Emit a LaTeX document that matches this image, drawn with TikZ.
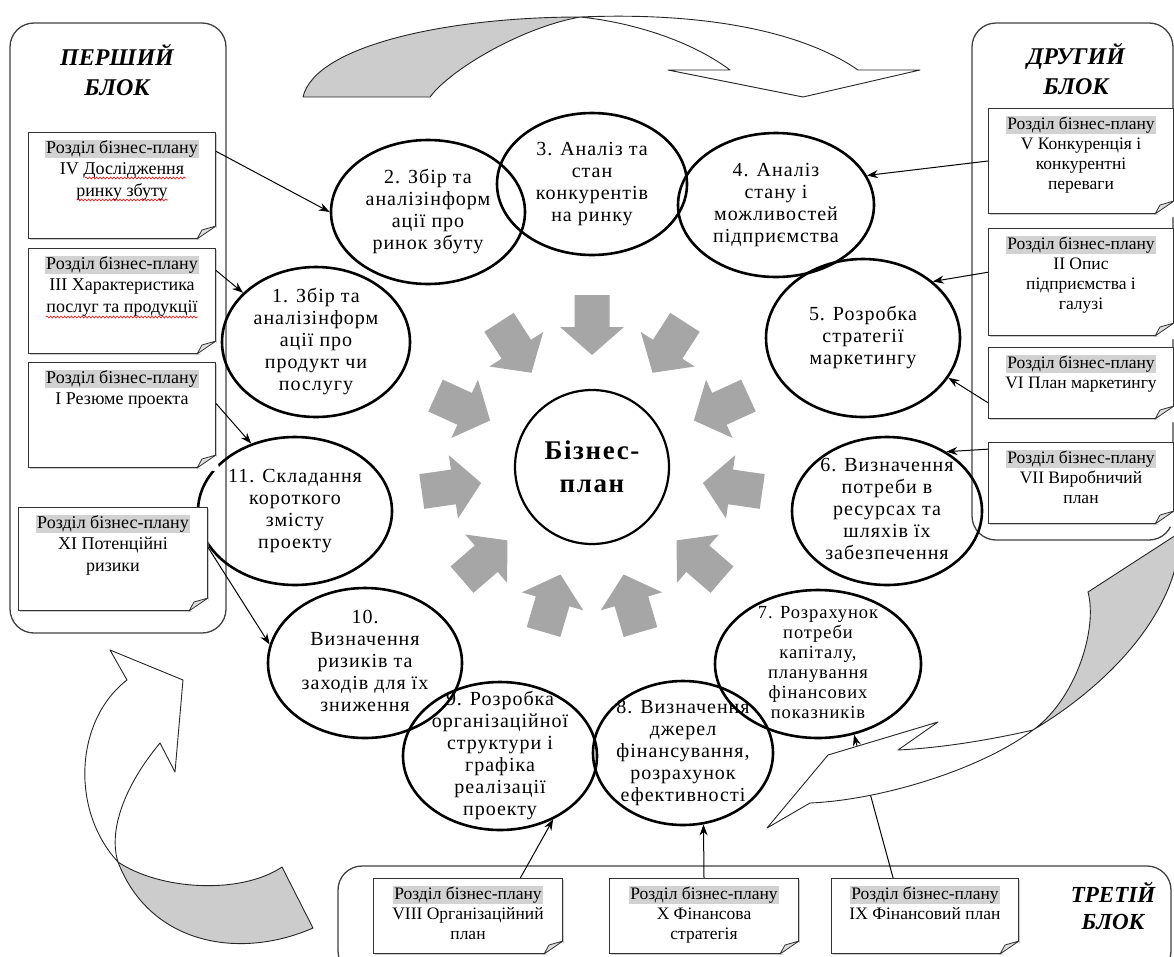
\documentclass[tikz,border=0pt]{standalone}
\usepackage{fontspec}
\setmainfont{Liberation Serif}
\newfontfamily\ovalfont[LetterSpace=5]{Liberation Serif}
\newfontfamily\hubfont[LetterSpace=6]{Liberation Serif}
\usetikzlibrary{arrows.meta,shapes.geometric,shadows,decorations.pathmorphing}

\newcommand\rozdil{{\setlength\fboxsep{1pt}\colorbox{gray!35}{Розділ бізнес-плану}}}
\newcommand\ovaltext[1]{\makebox[0pt]{\smash{\raisebox{-0.25em}{\begin{tabular}{@{}c@{}}#1\end{tabular}}}}}
\newcommand\notetext[3]{\parbox[t][#2][t]{#1}{\centering\vspace*{7pt}#3\par}}

\begin{document}
\begin{tikzpicture}[x=1pt,y=-1pt,
  oval/.style={ellipse, draw, line width=2.6pt, inner sep=0pt, font=\ovalfont\fontsize{20}{22}\selectfont},
  note/.style={draw=black!80, line width=1pt, fill=white, inner sep=0pt, anchor=north west,
    drop shadow={shadow xshift=1.8pt, shadow yshift=-1.8pt, fill=black!40}},
  lnote/.style={note, font=\fontsize{18}{21.5}\selectfont},
  rnote/.style={note, font=\fontsize{17.5}{20}\selectfont},
  block/.style={draw=black!75, line width=1.3pt, rounded corners=24pt},
  blocktitle/.style={font=\bfseries\itshape\fontsize{24}{30}\selectfont, align=center},
  link/.style={line width=1pt, -{Stealth[length=11pt,width=8pt]}},
  spell/.style={red, line width=0.6pt, decorate, decoration={snake, amplitude=1pt, segment length=3.5pt}},
  ray/.style={fill=gray!70},
  twist/.style={draw=black!85, line width=0.9pt, line join=round}]
\useasboundingbox (0,0) rectangle (1174,956);

% blocks
\draw[block] (10,23) rectangle (226,633);
\draw[block] (972,23) rectangle (1173,540);
\draw[block] (338,866) rectangle (1171,975);
\node[blocktitle] (first) at (117,70) {ПЕРШИЙ\\БЛОК};
\node[blocktitle] (second) at (1076,69) {ДРУГИЙ\\БЛОК};
\node[blocktitle, font=\bfseries\itshape\fontsize{23}{27}\selectfont] (third) at (1113,906) {ТРЕТІЙ\\БЛОК};

% top curved arrow
\filldraw[twist, fill=gray!40] (303,97) .. controls (315,45) and (450,17) .. (580,17)
  .. controls (520,28) and (450,70) .. (430,97) -- cycle;
\filldraw[twist, fill=white] (580,17) .. controls (700,12) and (800,30) .. (858,70) -- (920,70)
  -- (803,97) -- (668,70) -- (730,70) .. controls (690,40) and (630,22) .. (580,17) -- cycle;

% gray arrows to the centre
\foreach \i in {0,...,10}
  \fill[ray, shift={(592,467)}, rotate=90-\i*360/11] (112,0) -- (140,-32) -- (140,-17.5)
    -- (172,-17.5) -- (172,17.5) -- (140,17.5) -- (140,32) -- cycle;

% stages
\node[circle, draw, line width=2.2pt, minimum size=154, inner sep=0pt, align=center,
  font=\hubfont\bfseries\fontsize{27}{33}\selectfont] (plan) at (592,467) {Бізнес-\\план};
\node[oval, minimum width=188, minimum height=150] (e1) at (316,342) {\ovaltext{1. Збір та\\аналізінформ\\ації про\\продукт чи\\послугу}};
\node[oval, minimum width=190, minimum height=142] (e3) at (592,184) {\ovaltext{3. Аналіз та\\стан\\конкурентів\\на ринку}};
\node[oval, minimum width=194, minimum height=144] (e2) at (428,212) {\ovaltext{2. Збір та\\аналізінформ\\ації про\\ринок збуту}};
\node[oval, minimum width=196, minimum height=144] (e4) at (776,205) {\ovaltext{4. Аналіз\\стану і\\можливостей\\підприємства}};
\node[oval, minimum width=194, minimum height=158] (e5) at (863,338) {\ovaltext{5. Розробка\\стратегії\\маркетингу}};
\node[oval, minimum width=190, minimum height=148] (e6) at (887,511) {\ovaltext{6. Визначення\\потреби в\\ресурсах та\\шляхів їх\\забезпечення}};
\node[oval, minimum width=206, minimum height=148, font=\ovalfont\fontsize{18.5}{20}\selectfont] (e7) at (818,664) {\ovaltext{7. Розрахунок\\потреби\\капіталу,\\планування\\фінансових\\показників}};
\node[oval, minimum width=180, minimum height=144] (e8) at (683,753) {\ovaltext{8. Визначення\\джерел\\фінансування,\\розрахунок\\ефективності}};
\node[oval, minimum width=194, minimum height=148] (e9) at (500,756) {\ovaltext{9. Розробка\\організаційної\\структури і\\графіка\\реалізації\\проекту}};
\node[oval, minimum width=194, minimum height=150] (e10) at (365,663) {\ovaltext{10.\\Визначення\\ризиків та\\заходів для їх\\зниження}};
\node[oval, minimum width=194, minimum height=148] (e11) at (295,511) {\ovaltext{11. Складання\\короткого\\змісту\\проекту}};

% plan sections
\node[lnote] (l1) at (28,132) {\notetext{187pt}{106pt}{\rozdil\\IV Дослідження\\ринку збуту}};
\node[lnote] (l2) at (28,248) {\notetext{187pt}{105pt}{\rozdil\\III Характеристика\\послуг та продукції}};
\node[lnote] (l3) at (28,362) {\notetext{187pt}{105pt}{\rozdil\\I Резюме проекта}};
\node[lnote] (l4) at (18,507) {\notetext{189pt}{103pt}{\rozdil\\XI Потенційні\\ризики}};
\node[rnote] (r1) at (988,108) {\notetext{185pt}{105pt}{\rozdil\\V Конкуренція і\\конкурентні\\переваги}};
\node[rnote] (r2) at (988,228) {\notetext{185pt}{107pt}{\rozdil\\II Опис\\підприємства і\\галузі}};
\node[rnote] (r3) at (988,347) {\notetext{185pt}{71pt}{\rozdil\\VI План маркетингу}};
\node[rnote] (r4) at (988,442) {\notetext{185pt}{81pt}{\rozdil\\VII Виробничий\\план}};
\node[rnote] (b1) at (373,878) {\notetext{189pt}{75pt}{\rozdil\\VIII Організаційний\\план}};
\node[rnote] (b2) at (609,878) {\notetext{189pt}{75pt}{\rozdil\\X Фінансова\\стратегія}};
\node[rnote] (b3) at (831,878) {\notetext{187pt}{75pt}{\rozdil\\IX Фінансовий план}};
\foreach \n in {l1,l2,l3,l4,r1,r2,r3,r4,b1,b2,b3}{
  \fill[white] ([xshift=-19pt]\n.south east) -- ([xshift=4pt,yshift=-4pt]\n.south east) -- ([yshift=13pt]\n.south east) -- cycle;
  \filldraw[fill=gray!25, draw=black!80, line width=0.8pt, line join=round] ([xshift=-19pt]\n.south east)
    -- ([xshift=-14pt,yshift=9pt]\n.south east) -- ([yshift=13pt]\n.south east) -- cycle;
}
% spell-check marks
\draw[spell] (85,178) -- (186,178);
\draw[spell] (77,200) -- (168,200);
\draw[spell] (46,317) -- (198,317);

% links
\draw[link] (l1.20) -- (e2.180);
\draw[link] (l2.18) -- (e1.146);
\draw[link] (l3.7) -- (e11.123);
\draw[link] (l4.7) -- (e10.169);
\draw[link] (r1.west) -- (e4.18);
\draw[link] (r2.174) -- (e5.39);
\draw[link] (r3.192) -- (e5.-25);
\draw[link] (r4.160) -- (e6.45);
\draw[link] (b1.36) -- (e9.-50);
\draw[link] (b2.north) -- (e8.-74);
\draw[link] (b3.130) -- (e7.-63);

% right curved arrow
\filldraw[twist, fill=gray!40] (1176,535) -- (1088,592) .. controls (1098,630) and (1075,700) .. (1033,730)
  .. controls (1100,690) and (1160,630) .. (1176,565) -- cycle;
\filldraw[twist, fill=white] (1033,730) .. controls (990,740) and (940,748) .. (898,750) -- (938,722)
  -- (828,755) -- (767,828) -- (810,803) .. controls (880,800) and (980,770) .. (1033,730) -- cycle;

% left curved arrow
\filldraw[twist, fill=gray!40] (118,862) .. controls (160,890) and (240,895) .. (282,867) -- (313,928)
  .. controls (240,960) and (150,945) .. (118,862) -- cycle;
\filldraw[twist, fill=white] (118,862) .. controls (70,810) and (75,720) .. (127,680) -- (110,650)
  -- (183,680) -- (175,772) -- (160,743) .. controls (125,785) and (108,830) .. (118,862) -- cycle;
\end{tikzpicture}
\end{document}
